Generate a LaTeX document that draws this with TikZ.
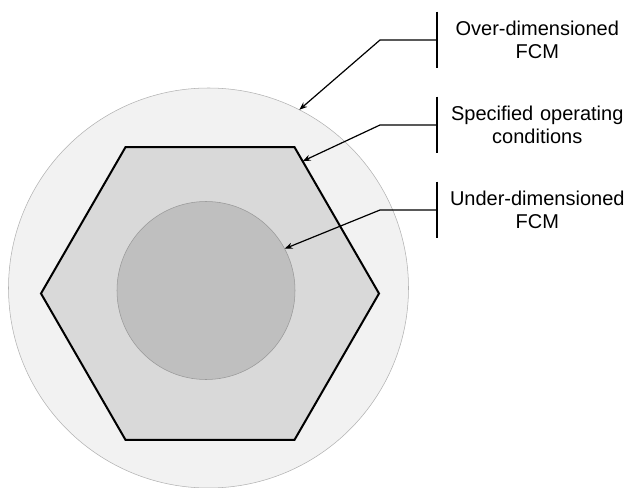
\documentclass[tikz,border=0pt]{standalone}
\usepackage{fontspec}
\setmainfont{Liberation Sans}
\usetikzlibrary{shapes.geometric,arrows.meta,positioning}

\begin{document}
\begin{tikzpicture}[
    x=0.75pt, y=-0.75pt,
    region/.style={circle, inner sep=0pt, outer sep=0pt},
    legend/.style={rectangle, minimum height=42pt, inner xsep=5pt, text width=140pt, align=center, font=\fontsize{15}{17.25}\selectfont},
    pointer/.style={-{Stealth[length=6pt,width=4.5pt]}, line width=0.9pt, black},
    bar/.style={line width=0.9pt, black},
]
    \useasboundingbox (0,0) rectangle (627,488);

    % Nested regions
    \node[region, draw=black!30, fill=black!5, minimum size=300pt] (over) at (208.5,288) {};
    \node[regular polygon, regular polygon sides=6, draw=black, line width=1.5pt, fill=black!15, minimum size=253.5pt, inner sep=0pt, outer sep=0pt] (spec) at (210,293.5) {};
    \node[region, draw=black!40, fill=black!25, minimum size=133.5pt] (under) at (206,290.5) {};

    % Legend texts (right column)
    \node[legend, anchor=west] (overlbl) at (437,40) {Over-dimensioned\\FCM};
    \node[legend, anchor=west] (speclbl) at (437,125) {Specified operating\\conditions};
    \node[legend, anchor=west] (underlbl) at (437,210) {Under-dimensioned\\FCM};

    % Bars beside the texts
    \draw[bar] (overlbl.north west) -- (overlbl.south west);
    \draw[bar] (speclbl.north west) -- (speclbl.south west);
    \draw[bar] (underlbl.north west) -- (underlbl.south west);

    % Pointers to the regions
    \draw[pointer] (overlbl.west) -- ++(-42.75pt,0) -- (over.63);
    \draw[pointer] (speclbl.west) -- ++(-42.75pt,0) -- (spec.55);
    \draw[pointer] (underlbl.west) -- ++(-42.75pt,0) -- (under.28);
\end{tikzpicture}
\end{document}
